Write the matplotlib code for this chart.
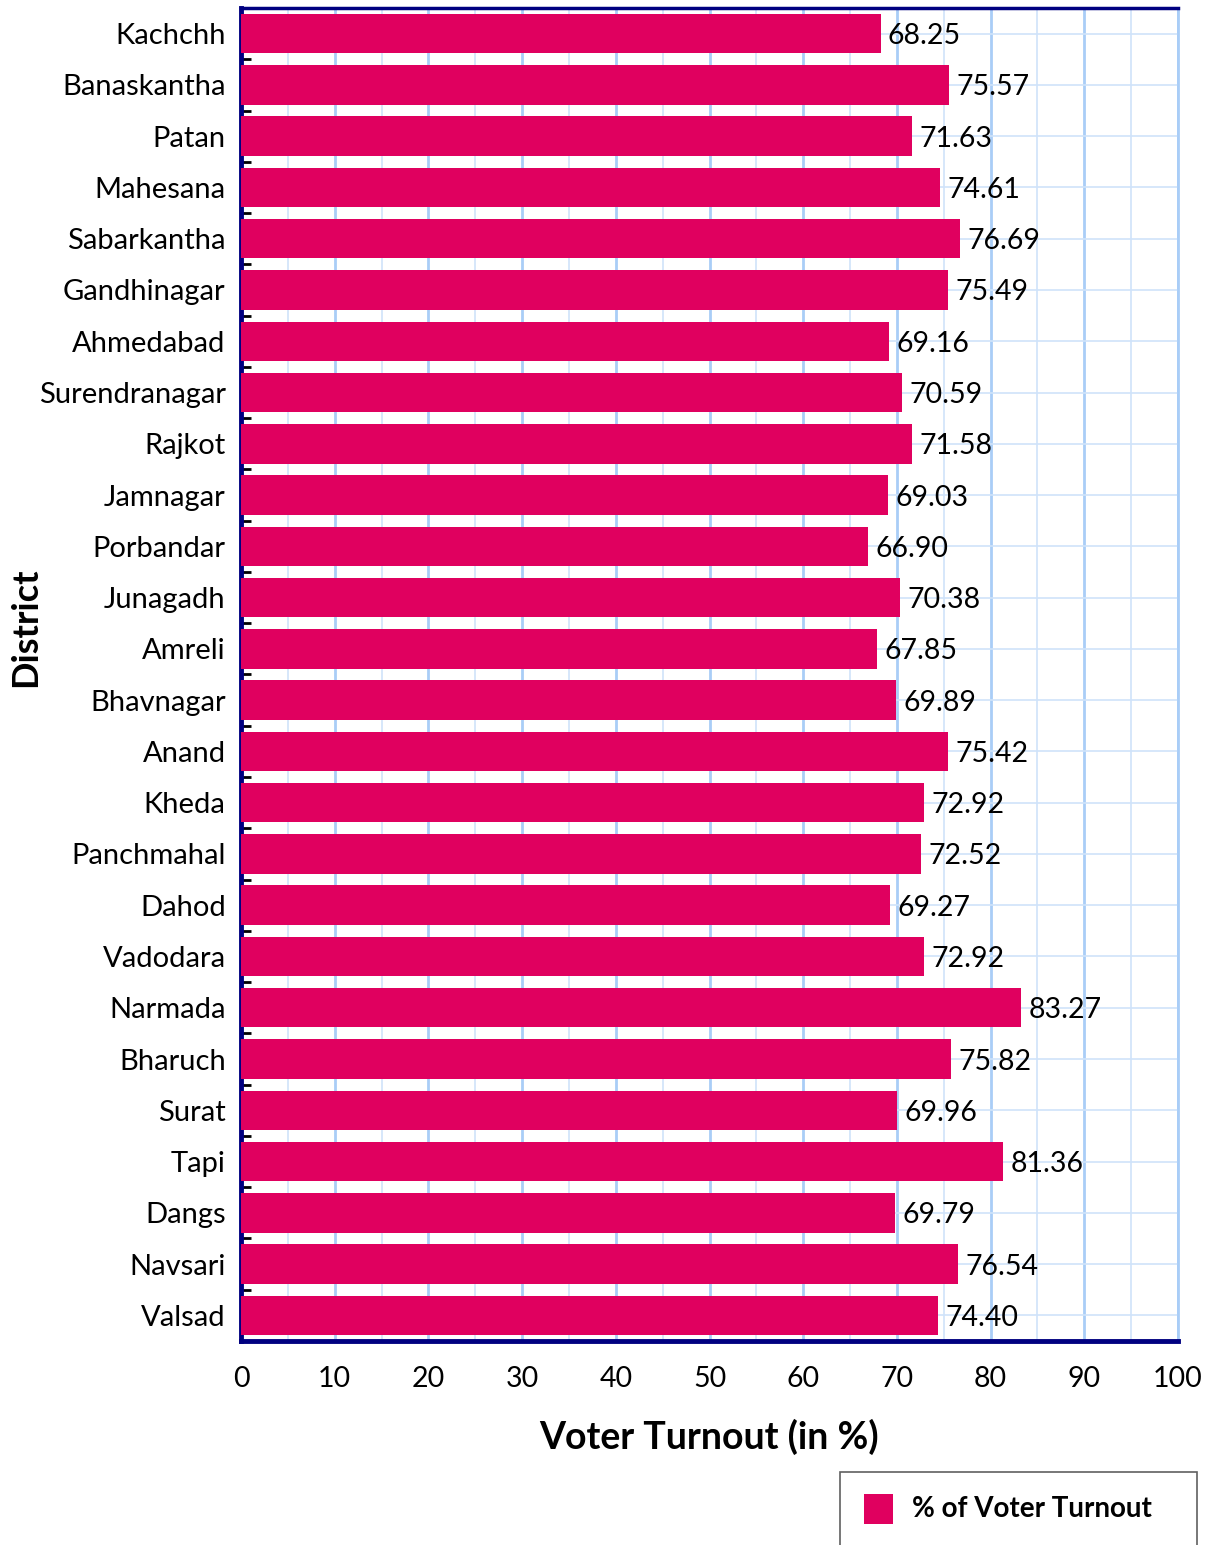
import matplotlib
matplotlib.use("Agg")
import matplotlib.pyplot as plt
import numpy as np
from matplotlib.patches import Rectangle

plt.rcParams['font.family'] = ['Lato', 'DejaVu Sans']

districts = ["Kachchh", "Banaskantha", "Patan", "Mahesana", "Sabarkantha",
             "Gandhinagar", "Ahmedabad", "Surendranagar", "Rajkot", "Jamnagar",
             "Porbandar", "Junagadh", "Amreli", "Bhavnagar", "Anand", "Kheda",
             "Panchmahal", "Dahod", "Vadodara", "Narmada", "Bharuch", "Surat",
             "Tapi", "Dangs", "Navsari", "Valsad"]
turnout = [68.25, 75.57, 71.63, 74.61, 76.69, 75.49, 69.16, 70.59, 71.58, 69.03,
           66.90, 70.38, 67.85, 69.89, 75.42, 72.92, 72.52, 69.27, 72.92, 83.27,
           75.82, 69.96, 81.36, 69.79, 76.54, 74.40]
x_ticks = [0, 10, 20, 30, 40, 50, 60, 70, 80, 90, 100]
series_name = "% of Voter Turnout"

bar_color = "#E0005F"
navy = "#000080"
grid_major = "#A9CDF7"
grid_minor = "#CFE3FA"

W, H = 1213, 1545
fig = plt.figure(figsize=(W / 100, H / 100), dpi=100)
ax = fig.add_axes([241/W, 1 - 1341/H, (1178-241)/W, (1341-8)/H])

y = np.arange(len(districts))
ax.barh(y, turnout, height=0.77, color=bar_color, zorder=3)
for yi, v in zip(y, turnout):
    ax.text(v + 0.8, yi, f"{v:.2f}", va="center_baseline", ha="left",
            fontsize=20.5, zorder=4)

ax.set_xlim(0, 100)
ax.set_ylim(len(districts) - 0.5, -0.5)
ax.set_xticks(x_ticks)
ax.set_xticks(np.arange(5, 100, 10), minor=True)
ax.set_yticks(y)
ax.set_yticklabels(districts, fontsize=21)
ax.set_yticks(np.arange(0.5, len(districts) - 0.5, 1), minor=True)
ax.tick_params(axis="x", which="both", length=0, labelsize=20.5, pad=18)
ax.tick_params(axis="y", which="major", length=0, pad=11)
ax.tick_params(axis="y", which="minor", length=7, width=2, color="black", direction="in")

ax.grid(axis="x", which="major", color=grid_major, linewidth=2, zorder=0)
ax.grid(axis="x", which="minor", color=grid_minor, linewidth=1.2, zorder=0)
ax.grid(axis="y", which="major", color=grid_minor, linewidth=1.2, zorder=0)
ax.set_axisbelow(True)

for side in ["left", "bottom", "top"]:
    ax.spines[side].set_color(navy)
ax.spines["left"].set_linewidth(3.5)
ax.spines["bottom"].set_linewidth(3.5)
ax.spines["top"].set_linewidth(2.5)
ax.spines["right"].set_color(grid_major)
ax.spines["right"].set_linewidth(2)

ax.set_xlabel("Voter Turnout (in %)", fontsize=27, fontweight="bold", labelpad=19)
fig.text(26/W, 1 - 627/H, "District", rotation=90, ha="center", va="center",
         fontsize=26, fontweight="bold")

# legend box running off the lower edge of the figure
fig.patches.append(Rectangle((840/W, -0.02), (1197-840)/W, (1 - 1472/H) + 0.02,
                             transform=fig.transFigure, facecolor="white",
                             edgecolor="#606060", linewidth=1.2))
fig.patches.append(Rectangle((864/W, 1 - 1524/H), 29/W, 30/H,
                             transform=fig.transFigure, facecolor=bar_color,
                             edgecolor="none"))
fig.text(912/W, 1 - 1509/H, series_name, ha="left", va="center",
         fontsize=20, fontweight="bold")

fig.savefig("out.png", dpi=100)
